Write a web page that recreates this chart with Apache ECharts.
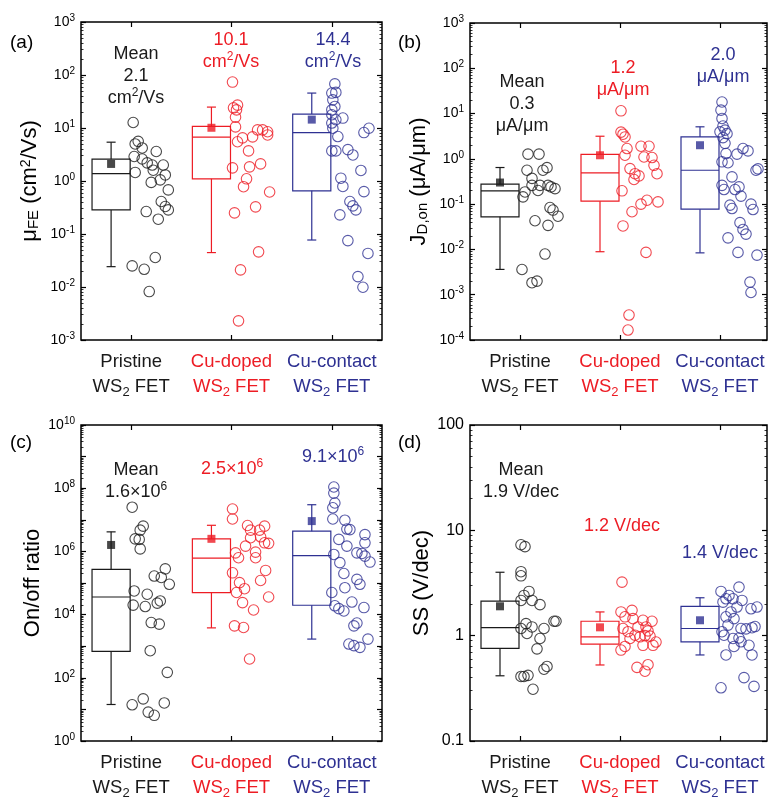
<!DOCTYPE html>
<html>
<head>
<meta charset="utf-8">
<script src="https://cdn.jsdelivr.net/npm/echarts@6/dist/echarts.min.js"></script>
<style>
  html, body { margin: 0; padding: 0; background: #fff; }
  #chart { width: 770px; height: 800px; }
</style>
</head>
<body>
<div id="chart"></div>
<script>
const cats = ['Pristine', 'Cu-doped', 'Cu-contact'];
const colors = ['#1a1a1a', '#ed1c24', '#2e3192'];
const FONT = '"Liberation Sans", Arial, sans-serif';

// box stats: [whisker min, Q1, median, Q3, whisker max]
const muBox = [[0.0242, 0.285, 1.38, 2.58, 5.4], [0.0446, 1.10, 6.7, 10.7, 24.8], [0.077, 0.652, 8.2, 18.3, 45.6]];
const jdBox = [[0.00362, 0.0526, 0.197, 0.276, 0.644], [0.0089, 0.116, 0.49, 1.25, 3.16], [0.0084, 0.0776, 0.56, 3.05, 5.1]];
const ratioBox = [[14.3, 686, 3.6e4, 2.7e5, 4.15e6], [3.8e3, 4.95e4, 6.1e5, 2.5e6, 6.7e6], [1.68e3, 1.98e4, 7.4e5, 4.35e6, 3e7]];
const ssBox = [[0.416, 0.757, 1.19, 2.13, 4.0], [0.527, 0.83, 0.975, 1.37, 1.68], [0.656, 0.875, 1.17, 1.9, 2.29]];

const muMean = [2.1, 10.1, 14.4];
const jdMean = [0.3, 1.2, 2.0];
const ratioMean = [1.6e6, 2.5e6, 9.1e6];
const ssMean = [1.9, 1.2, 1.4];

// devices: [offset right of category, value]
const muPristine = [[0.02, 12.7], [0.07, 5.6], [0.04, 5.0], [0.11, 4.2], [0.25, 3.6], [0.03, 2.9], [0.11, 2.6], [0.16, 2.2], [0.21, 2.0], [0.32, 2.0], [0.04, 1.45], [0.22, 1.6], [0.34, 1.3], [0.29, 1.05], [0.2, 0.94], [0.37, 0.68], [0.3, 0.41], [0.34, 0.33], [0.37, 0.285], [0.15, 0.265], [0.27, 0.19], [0.01, 0.025], [0.13, 0.0216], [0.24, 0.036], [0.18, 0.0082]];
const muDoped = [[0.01, 73.6], [0.02, 24], [0.05, 22], [0.06, 27], [0.04, 16], [0.04, 10.5], [0.06, 5.5], [0.11, 6.5], [0.17, 3.7], [0.21, 6.8], [0.26, 9.2], [0.31, 9.2], [0.36, 8.5], [0.36, 7.4], [0.01, 1.77], [0.18, 1.85], [0.29, 2.1], [0.15, 1.1], [0.12, 0.78], [0.38, 0.62], [0.24, 0.325], [0.03, 0.25], [0.27, 0.046], [0.09, 0.021], [0.07, 0.0023]];
const muContact = [[0.03, 68], [0.0, 45.6], [0.04, 47], [0.01, 34], [0.03, 25.5], [0.0, 22], [0.0, 17.8], [0.04, 14.3], [0.0, 12.4], [0.11, 15.4], [0.01, 9.9], [0.06, 6.9], [0.0, 3.7], [0.04, 3.7], [0.16, 3.9], [0.21, 3.1], [0.09, 1.13], [0.11, 0.79], [0.37, 9.9], [0.32, 8.2], [0.29, 1.58], [0.32, 0.63], [0.18, 0.41], [0.21, 0.34], [0.24, 0.285], [0.08, 0.23], [0.16, 0.075], [0.36, 0.043], [0.26, 0.0157], [0.31, 0.0099]];

const jdPristine = [[0.08, 1.27], [0.19, 1.27], [0.07, 0.56], [0.12, 0.37], [0.03, 0.145], [0.05, 0.186], [0.12, 0.26], [0.2, 0.26], [0.23, 0.56], [0.27, 0.64], [0.28, 0.26], [0.31, 0.24], [0.35, 0.22], [0.18, 0.2], [0.3, 0.084], [0.33, 0.074], [0.38, 0.054], [0.15, 0.043], [0.28, 0.034], [0.25, 0.0079], [0.02, 0.0036], [0.12, 0.00184], [0.17, 0.002]];
const jdDoped = [[0.01, 11.5], [0.01, 3.9], [0.03, 3.5], [0.05, 3.05], [0.07, 1.69], [0.05, 1.2], [0.21, 1.9], [0.29, 1.9], [0.24, 1.1], [0.32, 1.07], [0.34, 0.72], [0.1, 0.61], [0.15, 0.47], [0.19, 0.42], [0.14, 0.35], [0.37, 0.47], [0.02, 0.197], [0.21, 0.1], [0.27, 0.122], [0.38, 0.112], [0.12, 0.068], [0.03, 0.033], [0.26, 0.0086], [0.09, 0.000356], [0.08, 0.000166]];
const jdContact = [[0.02, 18], [0.01, 11.9], [0.02, 7.8], [0.03, 5.3], [0.05, 4.3], [0.0, 3.95], [0.07, 3.6], [0.03, 2.95], [0.05, 2.2], [0.06, 1.31], [0.02, 0.86], [0.08, 0.82], [0.17, 1.27], [0.23, 1.69], [0.28, 1.5], [0.12, 0.4], [0.02, 0.26], [0.04, 0.21], [0.15, 0.21], [0.19, 0.24], [0.21, 0.15], [0.1, 0.095], [0.12, 0.08], [0.31, 0.1], [0.33, 0.076], [0.36, 0.56], [0.38, 0.6], [0.2, 0.039], [0.23, 0.0276], [0.26, 0.0218], [0.08, 0.018], [0.18, 0.0086], [0.37, 0.0075], [0.3, 0.0019], [0.31, 0.00112]];

const ratioPristine = [[0.01, 2.5e7], [0.12, 6.3e6], [0.09, 4.7e6], [0.04, 2.5e6], [0.08, 2.4e6], [0.09, 1.2e6], [0.34, 2.8e5], [0.23, 1.66e5], [0.3, 1.5e5], [0.38, 9.1e4], [0.03, 5.6e4], [0.16, 4.4e4], [0.02, 2e4], [0.14, 1.8e4], [0.29, 2.7e4], [0.26, 2.3e4], [0.2, 5.6e3], [0.28, 5e3], [0.19, 720], [0.36, 149], [0.01, 14], [0.12, 21.6], [0.17, 8.2], [0.23, 6.5], [0.33, 16]];
const ratioDoped = [[0.01, 2.2e7], [0.01, 1.06e7], [0.16, 6.6e6], [0.19, 4.7e6], [0.33, 6.3e6], [0.28, 4.7e6], [0.19, 2.7e6], [0.29, 2.9e6], [0.33, 1.87e6], [0.37, 1.8e6], [0.14, 1.47e6], [0.04, 9e5], [0.24, 9.5e5], [0.07, 6.3e5], [0.24, 6.3e5], [0.01, 2.1e5], [0.34, 2.5e5], [0.08, 1.03e5], [0.29, 1.2e5], [0.13, 6.6e4], [0.05, 5e4], [0.37, 3.6e4], [0.11, 2.4e4], [0.22, 1.4e4], [0.03, 4.4e3], [0.12, 3.9e3], [0.18, 393]];
const ratioContact = [[0.02, 1.09e8], [0.02, 7e7], [0.03, 3.4e7], [0.01, 2.4e7], [0.01, 1.06e7], [0.13, 9.7e6], [0.18, 4.9e6], [0.15, 5.1e6], [0.07, 2.4e6], [0.15, 1.47e6], [0.02, 8e5], [0.25, 9e5], [0.3, 8.6e5], [0.33, 7.1e5], [0.38, 4.6e5], [0.33, 3.4e6], [0.33, 1.87e6], [0.08, 4.4e5], [0.12, 2e5], [0.25, 1.3e5], [0.28, 9.1e4], [0.13, 7.1e4], [0.0, 5e4], [0.2, 2.5e4], [0.03, 1.9e4], [0.07, 1.55e4], [0.12, 1.3e4], [0.32, 1.67e4], [0.25, 5.4e3], [0.22, 4.4e3], [0.17, 1.17e3], [0.22, 1.04e3], [0.28, 920], [0.36, 1.68e3]];

const ssPristine = [[0.01, 7.3], [0.05, 7.0], [0.01, 4.05], [0.01, 3.7], [0.09, 2.63], [0.04, 2.41], [0.01, 2.16], [0.12, 2.16], [0.2, 1.97], [0.06, 1.3], [0.12, 1.21], [0.01, 1.17], [0.07, 1.05], [0.24, 1.17], [0.34, 1.37], [0.36, 1.37], [0.2, 0.94], [0.17, 0.75], [0.27, 0.51], [0.24, 0.48], [0.01, 0.41], [0.04, 0.41], [0.08, 0.42], [0.13, 0.31]];
const ssDoped = [[0.02, 3.22], [0.01, 1.68], [0.12, 1.74], [0.05, 1.51], [0.13, 1.45], [0.23, 1.4], [0.32, 1.37], [0.18, 1.21], [0.26, 1.21], [0.03, 1.17], [0.28, 1.11], [0.08, 1.09], [0.15, 1.01], [0.2, 0.975], [0.1, 0.94], [0.25, 1.0], [0.3, 0.99], [0.36, 0.87], [0.33, 0.81], [0.05, 0.79], [0.23, 0.81], [0.01, 0.73], [0.17, 0.5], [0.25, 0.46], [0.28, 0.53]];
const ssContact = [[0.19, 2.89], [0.01, 2.63], [0.09, 2.41], [0.06, 2.24], [0.13, 2.24], [0.22, 2.16], [0.03, 2.08], [0.17, 1.87], [0.31, 1.8], [0.37, 1.87], [0.11, 1.68], [0.06, 1.51], [0.14, 1.45], [0.08, 1.26], [0.02, 1.09], [0.21, 1.17], [0.26, 1.16], [0.32, 1.19], [0.35, 1.22], [0.04, 1.01], [0.13, 0.94], [0.19, 0.95], [0.21, 0.875], [0.14, 0.79], [0.29, 0.81], [0.06, 0.656], [0.32, 0.656], [0.24, 0.4], [0.34, 0.33], [0.01, 0.32]];

const supRich = { s: { fontSize: 10, verticalAlign: 'top', lineHeight: 10, fontFamily: FONT } };
const nameRich = {
  sub: { fontSize: 15, verticalAlign: 'bottom', lineHeight: 15, fontFamily: FONT },
  sup: { fontSize: 14, verticalAlign: 'top', lineHeight: 14, fontFamily: FONT }
};

function powLabel(every) {
  return function (v) {
    const e = Math.round(Math.log10(v));
    if (e % every !== 0) return '';
    return '10{s|' + e + '}';
  };
}

function catLabel(v) {
  const k = ['p', 'd', 'c'][Math.round(v)];
  return '{' + k + '|' + cats[Math.round(v)] + '}\n{' + k + '|WS}{' + k + 's|2}{' + k + '| FET}';
}
const catRich = {};
['p', 'd', 'c'].forEach((k, i) => {
  catRich[k] = { color: colors[i], fontSize: 18.5, fontFamily: FONT, lineHeight: 25 };
  catRich[k + 's'] = { color: colors[i], fontSize: 13, fontFamily: FONT, verticalAlign: 'bottom', lineHeight: 18 };
});

const grids = [
  { left: 81, top: 22, width: 301, height: 318 },
  { left: 470, top: 23, width: 297, height: 317 },
  { left: 81, top: 425, width: 301, height: 317 },
  { left: 470, top: 425, width: 297, height: 318 }
];
const xMax = [2.5, 2.47, 2.5, 2.47];
const yRange = [[1e-3, 1e3], [1e-4, 1e3], [1, 1e10], [0.1, 100]];
const yNames = ['μ{sub|FE} (cm{sup|2}/Vs)', 'J{sub|D,on} (μA/μm)', 'On/off ratio', 'SS (V/dec)'];
const yNameGap = [40, 40, 36, 33];
const yLabelFmt = [powLabel(1), powLabel(1), powLabel(2), v => (v < 1 ? '0.1' : String(Math.round(v)))];
const yLabelSize = [14, 14, 14, 16];

const xAxes = [];
const yAxes = [];
grids.forEach((g, p) => {
  ['bottom', 'top'].forEach(pos => {
    xAxes.push({
      type: 'value', gridIndex: p, position: pos, min: -0.5, max: xMax[p],
      axisLine: { show: false, onZero: false }, splitLine: { show: false },
      axisTick: { inside: true, length: 5, customValues: [0, 1, 2], lineStyle: { color: '#000', width: 1.2 } },
      axisLabel: pos === 'bottom'
        ? { customValues: [0, 1, 2], formatter: catLabel, rich: catRich, margin: 9 }
        : { show: false }
    });
  });
  ['left', 'right'].forEach(pos => {
    const left = pos === 'left';
    yAxes.push({
      type: 'log', logBase: 10, gridIndex: p, position: pos,
      min: yRange[p][0], max: yRange[p][1], interval: 1,
      axisLine: { show: false, onZero: false }, splitLine: { show: false },
      axisTick: { inside: true, length: 5, lineStyle: { color: '#000', width: 1.2 } },
      minorTick: { show: true, splitNumber: 9, length: 2.5, lineStyle: { color: '#000', width: 0.8 } },
      axisLabel: left
        ? { color: '#000', fontSize: yLabelSize[p], fontFamily: FONT, lineHeight: 18, formatter: yLabelFmt[p], rich: supRich, margin: 6 }
        : { show: false },
      name: left ? yNames[p] : '',
      nameLocation: 'middle', nameGap: yNameGap[p], nameRotate: 90,
      nameTextStyle: { color: '#000', fontSize: 22, fontFamily: FONT, rich: nameRich }
    });
  });
});

function renderBox(params, api) {
  const i = api.value(0);
  const c = colors[i];
  const x0 = api.coord([i - 0.39, 1])[0];
  const x1 = api.coord([i - 0.01, 1])[0];
  const xc = api.coord([i - 0.2, 1])[0];
  const capL = api.coord([i - 0.245, 1])[0];
  const capR = api.coord([i - 0.155, 1])[0];
  const yMin = api.coord([i, api.value(1)])[1];
  const yQ1 = api.coord([i, api.value(2)])[1];
  const yMed = api.coord([i, api.value(3)])[1];
  const yQ3 = api.coord([i, api.value(4)])[1];
  const yMax = api.coord([i, api.value(5)])[1];
  const st = { stroke: c, lineWidth: 1.2, fill: null };
  const line = (a, b, d, e) => ({ type: 'line', shape: { x1: a, y1: b, x2: d, y2: e }, style: st });
  return {
    type: 'group',
    children: [
      { type: 'rect', shape: { x: x0, y: yQ3, width: x1 - x0, height: yQ1 - yQ3 }, style: st },
      line(x0, yMed, x1, yMed),
      line(xc, yQ3, xc, yMax),
      line(xc, yQ1, xc, yMin),
      line(capL, yMax, capR, yMax),
      line(capL, yMin, capR, yMin)
    ]
  };
}

const panels = [
  { box: muBox, mean: muMean, groups: [muPristine, muDoped, muContact] },
  { box: jdBox, mean: jdMean, groups: [jdPristine, jdDoped, jdContact] },
  { box: ratioBox, mean: ratioMean, groups: [ratioPristine, ratioDoped, ratioContact] },
  { box: ssBox, mean: ssMean, groups: [ssPristine, ssDoped, ssContact] }
];

const series = [];
panels.forEach((pn, p) => {
  series.push({
    type: 'custom', xAxisIndex: p * 2, yAxisIndex: p * 2, clip: false,
    renderItem: renderBox, silent: true,
    data: pn.box.map((b, i) => [i].concat(b))
  });
  pn.groups.forEach((grp, i) => {
    series.push({
      type: 'scatter', xAxisIndex: p * 2, yAxisIndex: p * 2,
      symbol: 'circle', symbolSize: 10.5,
      itemStyle: { color: 'rgba(0,0,0,0)', borderColor: colors[i], borderWidth: 1.1 },
      data: grp.map(d => [i + d[0], d[1]])
    });
  });
  series.push({
    type: 'scatter', xAxisIndex: p * 2, yAxisIndex: p * 2, z: 5,
    symbol: 'rect', symbolSize: 8,
    data: pn.mean.map((m, i) => ({ value: [i - 0.2, m], itemStyle: { color: colors[i] } }))
  });
});

function note(x, y, text, color) {
  return {
    type: 'text', x: x, y: y, z: 10,
    style: {
      text: text, fill: color, fontSize: 18, fontFamily: FONT, lineHeight: 22,
      align: 'center', verticalAlign: 'middle',
      rich: { s: { fontSize: 12, verticalAlign: 'top', lineHeight: 12, fill: color, fontFamily: FONT } }
    }
  };
}
function tag(x, y, text) {
  return { type: 'text', x: x, y: y, style: { text: text, fill: '#000', fontSize: 19, fontFamily: FONT, verticalAlign: 'middle' } };
}

const graphic = [
  tag(10, 43, '(a)'), tag(398, 43, '(b)'), tag(10, 443, '(c)'), tag(398, 443, '(d)'),
  note(136, 76, 'Mean\n2.1\ncm{s|2}/Vs', colors[0]),
  note(231, 51, '10.1\ncm{s|2}/Vs', colors[1]),
  note(333, 51, '14.4\ncm{s|2}/Vs', colors[2]),
  note(522, 104, 'Mean\n0.3\nμA/μm', colors[0]),
  note(623, 79, '1.2\nμA/μm', colors[1]),
  note(723, 66, '2.0\nμA/μm', colors[2]),
  note(136, 481, 'Mean\n1.6×10{s|6}', colors[0]),
  note(232, 469, '2.5×10{s|6}', colors[1]),
  note(333, 457, '9.1×10{s|6}', colors[2]),
  note(521, 481, 'Mean\n1.9 V/dec', colors[0]),
  note(622, 526, '1.2 V/dec', colors[1]),
  note(720, 553, '1.4 V/dec', colors[2])
];

const chart = echarts.init(document.getElementById('chart'), null, { renderer: 'canvas' });
chart.setOption({
  backgroundColor: '#fff',
  animation: false,
  textStyle: { fontFamily: FONT },
  grid: grids.map(g => Object.assign({ show: true, borderColor: '#000', borderWidth: 1.5, containLabel: false }, g)),
  xAxis: xAxes,
  yAxis: yAxes,
  series: series,
  graphic: graphic
});
</script>
</body>
</html>
